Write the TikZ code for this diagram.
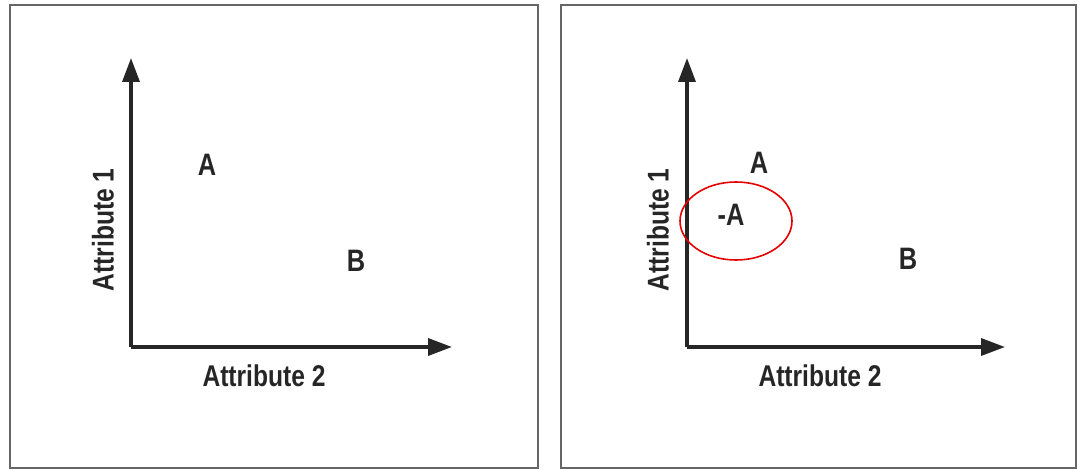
\documentclass[tikz,border=0pt]{standalone}
\usepackage{fontspec}
\setmainfont{Liberation Sans}[FakeStretch=0.82]
\usepackage{tikz}
\usetikzlibrary{arrows.meta, positioning, shapes.geometric}

\begin{document}
\begin{tikzpicture}[
  x=1pt, y=-1pt,
  panel/.style={draw=black!60, line width=2.5pt},
  axis/.style={-{Triangle[length=24pt, width=17pt]}, line width=3.5pt, draw=black!85},
  pointlbl/.style={font=\bfseries\fontsize{31}{33}\selectfont, inner sep=0pt, text=black!85},
  axislbl/.style={font=\bfseries\fontsize{30}{32}\selectfont, inner sep=0pt, text=black!85},
  ring/.style={ellipse, draw=red!90!black, line width=1.6pt,
               minimum width=112pt, minimum height=78pt}
]
\useasboundingbox (0,0) rectangle (1078,470);

% left panel
\draw[panel] (10,5) rectangle (538,468);
\coordinate (lorig) at (131,347);
\coordinate (lytip) at (131,58);
\coordinate (lxtip) at (452,347);
\draw[axis] (lorig) -- (lytip);
\draw[axis] (lorig) -- (lxtip);
\node[axislbl, rotate=90] (lattr1) at (103,230) {Attribute 1};
\node[axislbl] (lattr2) at (264,376) {Attribute 2};
\node[pointlbl] (la) at (207,165) {A};
\node[pointlbl] (lb) at (356,261) {B};

% right panel
\draw[panel] (561,5) rectangle (1076,468);
\coordinate (rorig) at (687,347);
\coordinate (rytip) at (687,58);
\coordinate (rxtip) at (1005,347);
\draw[axis] (rorig) -- (rytip);
\draw[axis] (rorig) -- (rxtip);
\node[axislbl, rotate=90] (rattr1) at (658,230) {Attribute 1};
\node[axislbl] (rattr2) at (820,376) {Attribute 2};
\node[pointlbl] (ra) at (759,163) {A};
\node[pointlbl] (rnega) at (731,215) {-A};
\node[pointlbl] (rb) at (908,259) {B};
\node[ring] (focus) at (736,221) {};

\end{tikzpicture}
\end{document}
